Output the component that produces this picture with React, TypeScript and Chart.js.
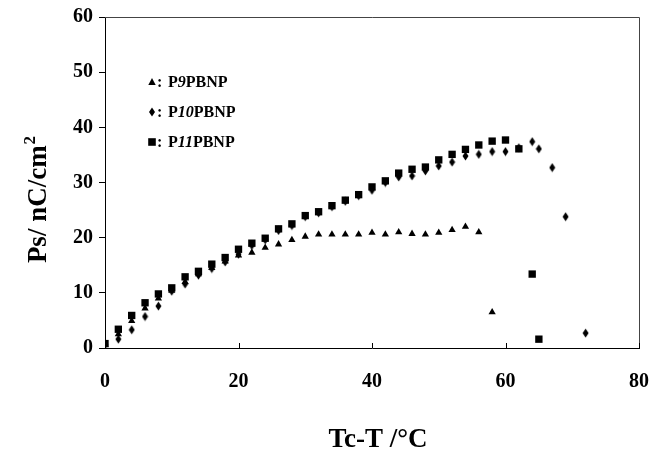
import { useEffect, useRef } from "react";
import { Chart, registerables } from "chart.js";

Chart.register(...registerables);

const xTicks = [0, 20, 40, 60, 80];
const yTicks = [0, 10, 20, 30, 40, 50, 60];

const p9X = [0, 2, 4, 6, 8, 10, 12, 14, 16, 18, 20, 22, 24, 26, 28, 30, 32, 34, 36, 38, 40, 42, 44, 46, 48, 50, 52, 54, 56, 58];
const p9Y = [0.6, 2.5, 4.9, 7.2, 9.0, 10.4, 12.0, 13.4, 14.5, 15.7, 16.8, 17.3, 18.2, 18.8, 19.6, 20.2, 20.6, 20.6, 20.6, 20.6, 20.9, 20.6, 21.0, 20.7, 20.6, 20.9, 21.4, 22.0, 21.0, 6.5];

const p10X = [0, 2, 4, 6, 8, 10, 12, 14, 16, 18, 20, 22, 24, 26, 28, 30, 32, 34, 36, 38, 40, 42, 44, 46, 48, 50, 52, 54, 56, 58, 60, 62, 64, 65, 67, 69, 72];
const p10Y = [0.6, 1.6, 3.3, 5.7, 7.6, 10.3, 11.6, 13.2, 14.4, 15.6, 17.0, 18.6, 19.6, 21.3, 22.2, 23.8, 24.5, 25.6, 26.6, 27.6, 28.6, 30.0, 31.0, 31.2, 32.1, 33.0, 33.7, 34.8, 35.1, 35.6, 35.6, 36.3, 37.4, 36.1, 32.7, 23.8, 2.7];

const p11X = [0, 2, 4, 6, 8, 10, 12, 14, 16, 18, 20, 22, 24, 26, 28, 30, 32, 34, 36, 38, 40, 42, 44, 46, 48, 50, 52, 54, 56, 58, 60, 62, 64, 65];
const p11Y = [0.8, 3.4, 5.9, 8.2, 9.8, 10.9, 12.9, 13.9, 15.2, 16.4, 17.9, 19.0, 19.9, 21.6, 22.5, 24.0, 24.7, 25.8, 26.8, 27.8, 29.2, 30.3, 31.7, 32.4, 32.8, 34.1, 35.1, 36.0, 36.8, 37.5, 37.7, 36.1, 13.4, 1.6];

const legendRows = [
  { marker: "triangle", pre: "P", num: "9", post: "PBNP" },
  { marker: "diamond", pre: "P", num: "10", post: "PBNP" },
  { marker: "square", pre: "P", num: "11", post: "PBNP" },
];

const FONT = "'Liberation Serif', 'Times New Roman', serif";

function makeDiamond(): HTMLCanvasElement {
  const c = document.createElement("canvas");
  c.width = 7;
  c.height = 10;
  const g = c.getContext("2d")!;
  g.fillStyle = "#000";
  g.beginPath();
  g.moveTo(3.5, 0.5);
  g.lineTo(6.5, 5);
  g.lineTo(3.5, 9.5);
  g.lineTo(0.5, 5);
  g.closePath();
  g.fill();
  return c;
}

function toPts(xs: number[], ys: number[]) {
  return xs.map((x, i) => ({ x, y: ys[i] }));
}

function drawMarker(ctx: CanvasRenderingContext2D, kind: string, x: number, y: number) {
  ctx.fillStyle = "#000";
  ctx.beginPath();
  if (kind === "triangle") {
    ctx.moveTo(x, y - 4);
    ctx.lineTo(x + 3.7, y + 3);
    ctx.lineTo(x - 3.7, y + 3);
  } else if (kind === "diamond") {
    ctx.moveTo(x, y - 4.5);
    ctx.lineTo(x + 3, y);
    ctx.lineTo(x, y + 4.5);
    ctx.lineTo(x - 3, y);
  } else {
    ctx.rect(x - 3.8, y - 3.8, 7.6, 7.6);
  }
  ctx.closePath();
  ctx.fill();
}

const decorPlugin = {
  id: "decor",
  afterDraw(chart: any) {
    const { ctx, chartArea: a, scales } = chart;
    ctx.save();
    // frame (top and right)
    ctx.strokeStyle = "#444";
    ctx.lineWidth = 1;
    ctx.beginPath();
    ctx.moveTo(a.left, Math.round(a.top) + 0.5);
    ctx.lineTo(Math.round(a.right) + 0.5, Math.round(a.top) + 0.5);
    ctx.lineTo(Math.round(a.right) + 0.5, a.bottom);
    ctx.stroke();
    // inside ticks on x axis
    ctx.strokeStyle = "#000";
    ctx.beginPath();
    for (const v of xTicks) {
      const px = Math.round(scales.x.getPixelForValue(v)) + 0.5;
      ctx.moveTo(px, a.bottom);
      ctx.lineTo(px, a.bottom - 5);
    }
    ctx.stroke();

    ctx.fillStyle = "#000";
    // x title
    ctx.font = `bold 27px ${FONT}`;
    ctx.textAlign = "center";
    ctx.textBaseline = "alphabetic";
    ctx.fillText("Tc-T /\u00B0C", 378, 447);

    // y title with superscript
    ctx.save();
    ctx.translate(46, 200);
    ctx.rotate(-Math.PI / 2);
    ctx.font = `bold 27px ${FONT}`;
    const main = "Ps/ nC/cm";
    const w1 = ctx.measureText(main).width;
    ctx.font = `bold 17px ${FONT}`;
    const w2 = ctx.measureText("2").width;
    const start = -(w1 + w2) / 2;
    ctx.textAlign = "left";
    ctx.font = `bold 27px ${FONT}`;
    ctx.fillText(main, start, 0);
    ctx.font = `bold 17px ${FONT}`;
    ctx.fillText("2", start + w1 + 1, -11);
    ctx.restore();

    // legend
    const rowsY = [87, 117, 147];
    legendRows.forEach((r, i) => {
      const by = rowsY[i];
      drawMarker(ctx, r.marker, 152, by - 5);
      ctx.textAlign = "left";
      ctx.textBaseline = "alphabetic";
      ctx.font = `bold 16px ${FONT}`;
      ctx.fillText(":", 157, by);
      let x = 168;
      ctx.fillText(r.pre, x, by);
      x += ctx.measureText(r.pre).width;
      ctx.font = `italic bold 16px ${FONT}`;
      ctx.fillText(r.num, x, by);
      x += ctx.measureText(r.num).width;
      ctx.font = `bold 16px ${FONT}`;
      ctx.fillText(r.post, x, by);
    });
    ctx.restore();
  },
};

export default function App() {
  const ref = useRef<HTMLCanvasElement | null>(null);

  useEffect(() => {
    document.body.style.margin = "0";
    const diamond = makeDiamond();
    const chart = new Chart(ref.current!, {
      type: "scatter",
      data: {
        datasets: [
          {
            label: "P11PBNP",
            data: toPts(p11X, p11Y),
            pointStyle: "rect",
            pointRadius: 5.2,
            pointBorderWidth: 0,
            backgroundColor: "#000",
            borderColor: "#000",
          },
          {
            label: "P10PBNP",
            data: toPts(p10X, p10Y),
            pointStyle: diamond as any,
            pointRadius: 5,
            pointBorderWidth: 0,
            backgroundColor: "#000",
            borderColor: "#000",
          },
          {
            label: "P9PBNP",
            data: toPts(p9X, p9Y),
            pointStyle: "triangle",
            pointRadius: 4.2,
            pointBorderWidth: 0,
            backgroundColor: "#000",
            borderColor: "#000",
          },
        ],
      },
      options: {
        animation: false,
        responsive: true,
        maintainAspectRatio: false,
        layout: { padding: { left: 0, right: 12, top: 17, bottom: 0 } },
        plugins: {
          legend: { display: false },
          tooltip: { enabled: false },
        },
        scales: {
          x: {
            type: "linear",
            min: 0,
            max: 80,
            afterFit: (s: any) => {
              s.height = 102;
              s.paddingLeft = 0;
              s.paddingRight = 0;
            },
            afterBuildTicks: (s: any) => {
              s.ticks = xTicks.map((v) => ({ value: v }));
            },
            ticks: {
              stepSize: 20,
              padding: 22,
              color: "#000",
              font: { family: FONT, weight: "bold", size: 20 },
            },
            grid: { display: false, drawTicks: false },
            border: { display: true, color: "#000", width: 1 },
          },
          y: {
            type: "linear",
            min: 0,
            max: 60,
            afterFit: (s: any) => {
              s.width = 105;
              s.paddingTop = 0;
              s.paddingBottom = 0;
            },
            afterBuildTicks: (s: any) => {
              s.ticks = yTicks.map((v) => ({ value: v }));
            },
            ticks: {
              stepSize: 10,
              padding: 6,
              color: "#000",
              font: { family: FONT, weight: "bold", size: 20 },
            },
            grid: { drawOnChartArea: false, drawTicks: true, tickLength: 6, color: "#000" },
            border: { display: true, color: "#000", width: 1 },
          },
        },
      },
      plugins: [decorPlugin],
    });
    return () => chart.destroy();
  }, []);

  return (
    <div style={{ width: 651, height: 450, position: "relative", background: "#fff" }}>
      <canvas ref={ref} />
    </div>
  );
}
